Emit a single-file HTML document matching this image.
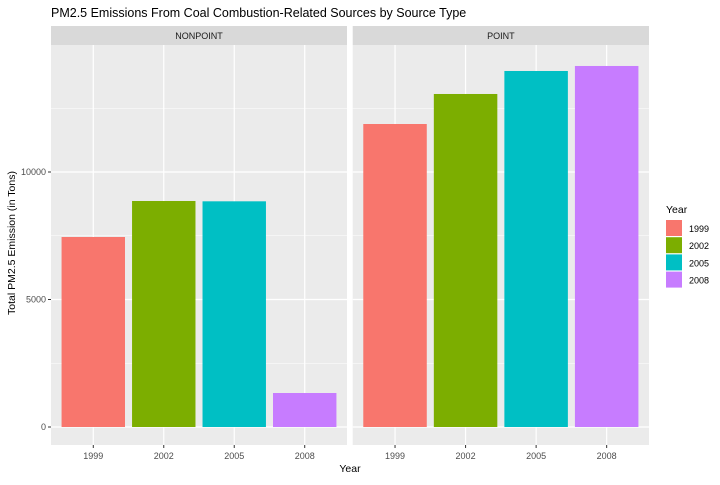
<!DOCTYPE html>
<html><head><meta charset="utf-8"><style>
body{margin:0;background:#fff;font-family:"Liberation Sans",Arial,sans-serif}
svg text{font-family:"Liberation Sans",Arial,sans-serif}
</style></head><body>
<svg id="chart" width="720" height="480" xmlns="http://www.w3.org/2000/svg">
<text x="51" y="17" font-size="12.5" fill="#000">PM2.5 Emissions From Coal Combustion-Related Sources by Source Type</text>
<text x="350" y="472" font-size="10.5" text-anchor="middle" fill="#000">Year</text>
<text transform="translate(15,243) rotate(-90)" font-size="10.5" text-anchor="middle" fill="#000">Total PM2.5 Emission (in Tons)</text>
<g id="panels"></g>
<g id="legend">
<text x="666" y="213" font-size="10.5" fill="#000">Year</text>
</g>
</svg>
<script>
const years = ["1999","2002","2005","2008"];
const panelNames = ["NONPOINT","POINT"];
const nonpointValues = [7451, 8863, 8850, 1333];
const pointValues = [11882, 13059, 13961, 14157];
const yTicks = [0, 5000, 10000];
const yMinor = [2500, 7500, 12500];
const colors = ["#F8766D","#7CAE00","#00BFC4","#C77CFF"];

const NS="http://www.w3.org/2000/svg";
function mk(tag, attrs, parent){const e=document.createElementNS(NS,tag);for(const k in attrs)e.setAttribute(k,attrs[k]);parent.appendChild(e);return e;}
const plotTop=45, plotBottom=445, yMin=-706, yMax=14980;
function y(v){return plotBottom-(v-yMin)/(yMax-yMin)*(plotBottom-plotTop);}
const panelX=[[51,347],[352.7,649]];
const series=[nonpointValues,pointValues];
const g=document.getElementById('panels');
panelNames.forEach((name,p)=>{
  const x0=panelX[p][0], x1=panelX[p][1], w=x1-x0, step=w/4.2;
  function x(i){return x0+step*(0.6+i);}
  const pg=mk('g',{},g);
  
  
  const strip=mk('rect',{x:x0,y:26,width:w,height:19,fill:'#D9D9D9'},pg);
  
  
  const st=mk('text',{x:x0+w/2,y:39,'font-size':9,'text-anchor':'middle',fill:'#1A1A1A'},pg);
  st.textContent=name;
  
  
  mk('rect',{x:x0,y:plotTop,width:w,height:plotBottom-plotTop,fill:'#EBEBEB'},pg);
  yMinor.forEach(v=>mk('line',{x1:x0,x2:x1,y1:y(v),y2:y(v),stroke:'#fff','stroke-width':0.6},pg));
  yTicks.forEach(v=>mk('line',{x1:x0,x2:x1,y1:y(v),y2:y(v),stroke:'#fff','stroke-width':1.2},pg));
  years.forEach((yr,i)=>mk('line',{x1:x(i),x2:x(i),y1:plotTop,y2:plotBottom,stroke:'#fff','stroke-width':1.2},pg));
  series[p].forEach((v,i)=>{
    const bw=step*0.9;
    const r=mk('rect',{x:x(i)-bw/2,y:y(v),width:bw,height:y(0)-y(v),fill:colors[i]},pg);
    
    
  });
  years.forEach((yr,i)=>{
    mk('line',{x1:x(i),x2:x(i),y1:plotBottom,y2:plotBottom+3,stroke:'#333'},pg);
    const t=mk('text',{x:x(i),y:plotBottom+14,'font-size':9,'text-anchor':'middle',fill:'#4D4D4D'},pg);
    t.textContent=yr;
    
    
  });
  if(p===0){
    yTicks.forEach(v=>{
      mk('line',{x1:x0-3,x2:x0,y1:y(v),y2:y(v),stroke:'#333'},pg);
      const t=mk('text',{x:x0-5,y:y(v)+3,'font-size':9,'text-anchor':'end',fill:'#4D4D4D'},pg);
      t.textContent=v;
      
      
    });
  }
});
const lg=document.getElementById('legend');
years.forEach((yr,i)=>{
  const yy=220+i*17.2;
  const r=mk('rect',{x:666,y:yy,width:16,height:16,fill:colors[i]},lg);
  
  
  const t=mk('text',{x:689,y:yy+12,'font-size':9,fill:'#000'},lg);
  t.textContent=yr;
  
  
});
</script>
</body></html>
